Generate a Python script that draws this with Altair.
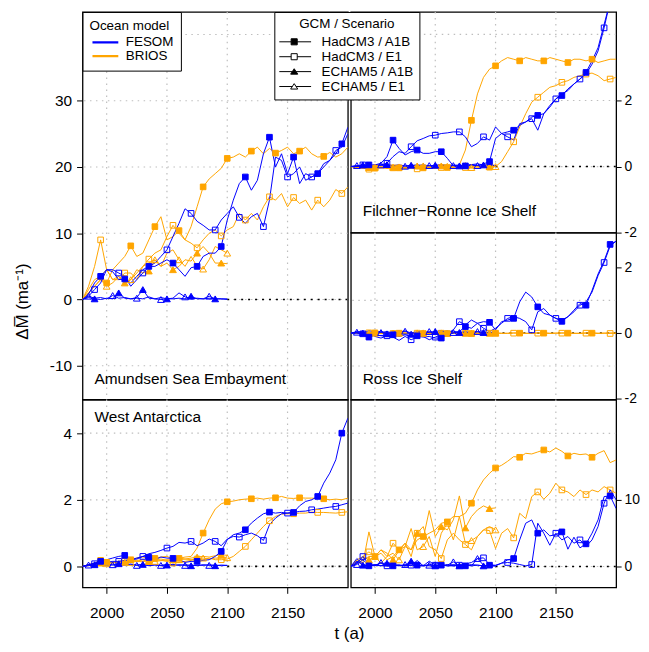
import altair as alt
import pandas as pd

BLUE = "#0000FF"
ORANGE = "#FFA500"
GRID = "#BEBEBE"
FONT = "Liberation Sans"

# ---------------- axes / categories ----------------
years_hadcm3 = list(range(1980, 2201, 5))   # HadCM3 runs 1980-2200
years_echam5 = list(range(1980, 2101, 5))   # ECHAM5 runs 1980-2100
x_ticks = [2000, 2050, 2100, 2150]
models = ["FESOM", "BRIOS"]
scenarios = ["HadCM3 / A1B", "HadCM3 / E1", "ECHAM5 / A1B", "ECHAM5 / E1"]

# ---------------- Amundsen Sea Embayment ----------------
ase_fesom_had_a1b = [0, 0.8, 2.5, 3.5, 4.5, 4.2, 3.0, 3.1, 2.5, 3.5,
                     4.5, 5.0, 5.0, 5.5, 6.0, 5.5, 4.5, 3.5, 4.8, 5.0,
                     6.5, 7.0, 7.0, 8.0, 12.0, 15.0, 17.5, 18.5, 16.5, 18.0,
                     22.0, 24.5, 20.0, 22.0, 19.0, 21.5, 17.5, 19.0, 18.5, 19.0,
                     20.0, 21.0, 22.0, 23.5, 26.0]
ase_fesom_had_e1 = [0, 0.5, 1.5, 2.5, 4.5, 4.5, 4.0, 3.5, 2.0, 3.0,
                    4.0, 5.0, 5.5, 6.5, 7.5, 9.5, 11.5, 13.7, 13.0, 11.8,
                    11.2, 10.5, 10.5, 12.0, 13.0, 14.0, 12.4, 11.5, 12.5, 13.0,
                    11.0, 15.0, 21.5, 21.0, 18.5, 19.0, 20.0, 18.0, 18.5, 19.0,
                    20.5, 21.0, 22.5, 23.0, 25.0]
ase_brios_had_a1b = [0, 1.0, 2.0, 3.0, 2.5, 4.5, 5.5, 6.5, 8.1, 6.5,
                     7.0, 9.0, 11.0, 12.5, 9.0, 9.5, 10.4, 9.0, 11.0, 14.0,
                     17.0, 18.2, 19.0, 19.8, 21.3, 21.5, 22.0, 21.5, 22.4, 23.0,
                     22.0, 22.8, 22.1, 22.5, 23.0, 22.0, 22.4, 23.0, 22.0, 21.5,
                     21.6, 22.2, 21.5, 22.0, 23.0]
ase_brios_had_e1 = [0, 2.0, 5.0, 9.0, 4.5, 3.0, 3.0, 4.0, 4.0, 3.0,
                    5.0, 6.1, 7.0, 7.5, 9.5, 11.2, 10.0, 9.0, 8.5, 7.8,
                    9.0, 10.0, 10.5, 9.6, 10.5, 11.0, 13.0, 12.0, 13.0, 12.0,
                    14.0, 15.5, 15.0, 16.0, 14.0, 15.4, 14.5, 15.0, 13.5, 15.0,
                    14.0, 15.0, 16.6, 16.0, 17.0]
ase_fesom_ech_a1b = [0, 0.3, 0.1, 0.0, 0.2, 0.1, 1.0, 0.2, 0.1, 0.3,
                     1.5, 0.2, 0.1, 0.3, 0.1, 0.1, 0.2, 0.1, 0.5, 0.1,
                     0.1, 0.2, 0.1, 0.1, 0.0]
ase_fesom_ech_e1 = [0, 0.5, 0.2, 0.3, 0.1, 0.6, 0.2, 0.3, 0.1, 0.2,
                    0.1, 0.4, 0.1, 0.0, 0.1, 0.2, 1.0, 0.4, 0.1, 0.2,
                    0.1, 0.5, 0.1, 0.1, 0.1]
ase_brios_ech_a1b = [0, 1.5, 3.0, 3.5, 4.5, 3.0, 3.5, 2.5, 3.0, 4.5,
                     4.0, 4.3, 6.0, 5.0, 5.5, 4.5, 5.0, 6.0, 5.8, 7.0,
                     8.0, 7.0, 5.5, 5.5, 5.4]
ase_brios_ech_e1 = [0, 1.0, 2.0, 3.0, 2.0, 2.5, 3.5, 2.5, 3.0, 4.0,
                    5.0, 5.5, 6.0, 5.0, 7.0, 7.5, 6.0, 5.0, 6.5, 5.0,
                    4.6, 6.0, 8.0, 7.5, 7.0]

# ---------------- Filchner-Ronne Ice Shelf ----------------
fris_fesom_had_a1b = [0, 0, 0.02, 0.05, 0.05, 0.1, 0.3, 0.8, 0.55, 0.35,
                      0.45, 0.5, 0.4, 0.4, 0.45, 0.45, 0.25, 0.02, 0.0, 0.02,
                      0.05, 0.03, 0.08, 0.15, 0.85, 1.0, 1.05, 1.1, 1.25, 1.35,
                      1.5, 1.55, 1.6, 1.8, 2.05, 2.15, 2.35, 2.5, 2.65, 2.85,
                      3.2, 3.6, 4.3, 5.0, 5.6]
fris_fesom_had_e1 = [0, 0, 0.05, 0, 0.05, 0.05, 0.1, 0.3, 0.45, 0.4,
                     0.6, 0.78, 0.85, 0.93, 0.95, 1.0, 1.02, 1.05, 1.05, 0.9,
                     0.6, 0.7, 0.9, 0.8, 1.2, 1.0, 0.9, 0.8, 1.3, 1.35,
                     1.45, 1.1, 1.6, 1.85, 2.05, 2.2, 2.3, 2.5, 2.65, 2.8,
                     3.1, 3.5, 4.2, 5.0, 5.5]
fris_brios_had_a1b = [0, -0.03, -0.05, -0.03, -0.05, -0.04, -0.03, -0.05, -0.04, -0.06,
                      -0.03, -0.05, -0.04, -0.03, -0.05, -0.04, -0.03, -0.02, 0.05, 0.5,
                      1.4, 2.2, 2.7, 2.95, 3.05, 3.2, 3.3, 3.25, 3.2, 3.3,
                      3.25, 3.2, 3.2, 3.3, 3.25, 3.2, 3.15, 3.25, 3.25, 3.2,
                      3.25, 3.15, 3.2, 3.25, 3.25]
fris_brios_had_e1 = [0, -0.03, -0.05, -0.08, -0.05, -0.03, -0.06, -0.04, -0.08, -0.05,
                     -0.04, -0.07, -0.05, -0.04, -0.06, -0.03, -0.05, -0.04, -0.06, -0.03,
                     -0.05, -0.04, -0.03, -0.02, 0.0, 0.15, 0.45, 0.75, 1.2, 1.6,
                     1.95, 2.1, 2.25, 2.4, 2.45, 2.55, 2.6, 2.7, 2.75, 2.8,
                     2.83, 2.75, 2.6, 2.65, 2.7]
fris_fesom_ech_a1b = [0, 0.02, 0.05, 0.03, 0.02, 0.04, 0.06, 0.03, 0.05, 0.02,
                      0.04, 0.03, 0.05, 0.02, 0.04, 0.06, 0.03, 0.05, 0.02, 0.04,
                      0.06, 0.08, 0.05, 0.04, 0.03]
fris_fesom_ech_e1 = [0, 0.03, 0.01, 0.04, 0.02, 0.05, 0.03, 0.02, 0.04, 0.01,
                     0.03, 0.05, 0.02, 0.03, 0.01, 0.04, 0.02, 0.03, 0.05, 0.02,
                     0.04, 0.03, 0.02, 0.05, 0.03]
fris_brios_ech_a1b = [0, -0.02, 0.02, -0.03, 0.0, -0.04, 0.01, -0.02, 0.02, -0.03,
                      -0.01, 0.02, -0.04, 0.0, -0.02, 0.02, -0.03, 0.01, -0.02, 0.03,
                      -0.01, 0.02, -0.03, 0.0, 0.01]
fris_brios_ech_e1 = [0, 0.01, -0.03, 0.02, -0.02, 0.0, -0.04, 0.02, -0.01, -0.03,
                     0.01, -0.02, 0.02, -0.04, 0.0, -0.02, 0.01, -0.03, 0.02, -0.01,
                     -0.03, 0.0, -0.02, -0.01, 0.0]

# ---------------- Ross Ice Shelf ----------------
ross_fesom_had_a1b = [0, 0.02, -0.05, -0.12, -0.05, -0.08, -0.1, -0.05, -0.1, -0.05,
                      -0.1, -0.08, -0.12, -0.1, -0.15, -0.15, -0.05, 0.0, 0.05, 0.2,
                      0.15, 0.3, 0.35, 0.33, 0.1, 0.35, 0.4, 0.45, 0.95, 1.25,
                      1.1, 0.8, 0.6, 0.55, 0.45, 0.36, 0.5, 0.7, 0.9, 0.85,
                      1.3, 1.8, 2.2, 2.7, 2.8]
ross_fesom_had_e1 = [0, 0, -0.02, 0, -0.1, -0.15, -0.08, -0.12, -0.22, -0.1,
                     -0.2, -0.12, -0.1, -0.2, -0.12, -0.05, 0.0, 0.1, 0.35, 0.25,
                     0.4, 0.3, 0.15, 0.05, 0.15, 0.3, 0.45, 0.5, 0.45, 0.35,
                     0.1, 0.65, 0.75, 0.55, 0.45, 0.4, 0.5, 0.65, 0.85, 0.95,
                     1.25, 1.75, 2.15, 2.65, 2.8]
ross_brios_had_a1b = [0, 0.01, -0.01, 0.0, 0.01, -0.01, 0.0, 0.01, 0.0, -0.01,
                      0.0, 0.01, -0.01, 0.0, 0.01, 0.0, -0.01, 0.0, 0.01, 0.0,
                      -0.01, 0.0, 0.01, 0.0, 0.0, -0.01, 0.0, 0.01, 0.0, -0.01,
                      0.0, 0.01, 0.0, -0.01, 0.0, 0.01, 0.0, -0.01, 0.0, 0.01,
                      0.0, -0.01, 0.0, 0.01, 0.0]
ross_brios_had_e1 = [0, -0.01, 0.0, 0.01, 0.0, 0.0, 0.01, -0.01, 0.0, 0.01,
                     -0.01, 0.0, 0.0, 0.01, -0.01, 0.0, 0.01, 0.0, -0.01, 0.0,
                     0.01, 0.0, -0.01, 0.0, 0.01, 0.0, -0.01, 0.0, 0.01, 0.0,
                     -0.01, 0.0, 0.01, 0.0, 0.0, 0.0, 0.01, 0.0, -0.01, 0.0,
                     0.01, 0.0, 0.0, -0.01, 0.0]
ross_fesom_ech_a1b = [0, 0.05, 0.0, 0.08, 0.02, 0.06, -0.02, 0.05, 0.03, 0.07,
                      -0.03, 0.04, 0.06, 0.02, 0.05, 0.08, 0.03, 0.06, 0.02, 0.05,
                      0.01, 0.04, 0.02, 0.03, 0.02]
ross_fesom_ech_e1 = [0, 0.03, 0.06, -0.02, 0.04, 0.02, 0.05, 0.0, 0.03, 0.06,
                     0.01, 0.04, -0.02, 0.05, 0.02, 0.03, 0.07, 0.02, 0.04, 0.01,
                     0.03, 0.05, 0.02, 0.01, 0.02]
ross_brios_ech_a1b = [0, 0.0, 0.01, 0.0, -0.01, 0.0, 0.01, 0.0, 0.0, -0.01,
                      0.0, 0.01, 0.0, -0.01, 0.0, 0.01, 0.0, 0.0, 0.01, 0.0,
                      -0.01, 0.0, 0.01, 0.0, 0.0]
ross_brios_ech_e1 = [0, 0.01, 0.0, -0.01, 0.0, 0.0, 0.0, 0.01, 0.0, 0.0,
                     -0.01, 0.0, 0.01, 0.0, 0.0, 0.0, -0.01, 0.0, 0.0, 0.01,
                     0.0, 0.0, -0.01, 0.0, 0.0]

# ---------------- West Antarctica ----------------
wa_fesom_had_a1b = [0, 0.05, 0.1, 0.15, 0.2, 0.25, 0.3, 0.33, 0.2, 0.25,
                    0.3, 0.27, 0.2, 0.28, 0.25, 0.24, 0.2, 0.12, 0.15, 0.15,
                    0.18, 0.2, 0.3, 0.45, 0.8, 0.95, 1.0, 1.1, 1.3, 1.45,
                    1.58, 1.63, 1.6, 1.62, 1.6, 1.62, 1.82, 1.95, 2.0, 2.1,
                    2.5, 2.8, 3.2, 4.0, 4.45]
wa_fesom_had_e1 = [0, 0.05, 0.08, 0.1, 0.12, 0.15, 0.15, 0.18, 0.2, 0.22,
                   0.3, 0.38, 0.42, 0.48, 0.55, 0.6, 0.72, 0.7, 0.75, 0.62,
                   0.7, 0.82, 0.75, 0.62, 0.82, 0.9, 0.88, 0.95, 1.0, 0.92,
                   0.78, 1.25, 1.45, 1.58, 1.6, 1.62, 1.65, 1.66, 1.7, 1.72,
                   1.75, 1.78, 1.8, 1.85, 1.9]
wa_brios_had_a1b = [0, 0.02, 0.05, 0.1, 0.12, 0.1, 0.15, 0.18, 0.2, 0.25,
                    0.28, 0.25, 0.24, 0.28, 0.3, 0.22, 0.24, 0.28, 0.3, 0.55,
                    1.0, 1.4, 1.72, 1.88, 1.94, 1.96, 2.0, 2.02, 2.03, 2.05,
                    2.02, 2.05, 2.06, 2.1, 2.05, 2.04, 2.06, 2.05, 2.05, 2.04,
                    2.03, 2.0, 2.02, 2.0, 2.05]
wa_brios_had_e1 = [0, 0.05, 0.1, 0.18, 0.15, 0.12, 0.1, 0.15, 0.18, 0.15,
                   0.2, 0.15, 0.2, 0.18, 0.15, 0.1, 0.12, 0.15, 0.18, 0.22,
                   0.2, 0.25, 0.2, 0.2, 0.22, 0.3, 0.45, 0.6, 0.8, 1.0,
                   1.2, 1.37, 1.5, 1.57, 1.58, 1.58, 1.6, 1.6, 1.63, 1.62,
                   1.62, 1.61, 1.6, 1.62, 1.64]
wa_fesom_ech_a1b = [0, 0.02, 0.05, 0.03, 0.06, 0.04, 0.08, 0.05, 0.07, 0.04,
                    0.06, 0.03, 0.05, 0.02, 0.04, 0.06, 0.03, 0.05, 0.02, 0.04,
                    0.03, 0.05, 0.02, 0.04, 0.03]
wa_fesom_ech_e1 = [0, 0.04, 0.02, 0.06, 0.03, 0.05, 0.02, 0.04, 0.06, 0.03,
                   0.05, 0.02, 0.04, 0.03, 0.06, 0.02, 0.05, 0.03, 0.04, 0.02,
                   0.05, 0.03, 0.04, 0.02, 0.03]
wa_brios_ech_a1b = [0, 0.05, 0.08, 0.1, 0.12, 0.1, 0.15, 0.12, 0.15, 0.18,
                    0.2, 0.15, 0.2, 0.22, 0.18, 0.2, 0.25, 0.22, 0.25, 0.28,
                    0.3, 0.28, 0.32, 0.35, 0.33]
wa_brios_ech_e1 = [0, 0.04, 0.06, 0.1, 0.08, 0.12, 0.1, 0.13, 0.12, 0.15,
                   0.14, 0.18, 0.15, 0.17, 0.2, 0.18, 0.2, 0.22, 0.2, 0.23,
                   0.25, 0.22, 0.25, 0.24, 0.26]

# ---------------- bottom-right panel ----------------
br_fesom_had_a1b = [0, 1.2, 0.3, 0.1, 0.2, 0.1, 0.3, 0.1, 0.2, 0.1,
                    0.5, 0.2, 0.1, 0.3, 0.1, 0.2, 0.1, 0.1, 0.2, 0.1,
                    0.3, 0.2, 0.1, 0.2, 0.2, 0.5, 1.0, 1.2, 4.0, 6.5,
                    7.0, 5.0, 5.5, 4.6, 4.8, 5.2, 2.6, 4.4, 2.8, 3.4,
                    5.0, 7.0, 10.5, 10.6, 8.7]
br_fesom_had_e1 = [0, 0.5, 1.5, 0.3, 0.2, 0.5, 0.1, 0.3, 0.2, 0.1,
                   0.2, 0.1, 0.1, 0.8, 0.2, 0.1, 0.3, 0.1, 0.2, 0.4,
                   0.6, 1.2, 1.3, 0.3, 0.1, 0.5, 0.6, 0.5, 0.3, 0.1,
                   0.3, 6.5, 5.0, 3.2, 5.0, 4.0, 4.5, 3.5, 4.0, 3.0,
                   4.0, 6.0, 9.5, 11.5, 10.0]
br_brios_had_a1b = [0, 0.5, 1.0, 1.5, 1.5, 2.0, 1.0, 1.5, 2.5, 3.0,
                    2.5, 4.0, 4.5, 5.0, 5.5, 6.5, 6.7, 7.5, 7.5, 8.0,
                    9.5, 11.5, 13.0, 14.0, 14.8, 15.2, 15.8, 16.5, 16.4, 17.0,
                    16.9, 17.2, 17.5, 17.2, 17.8, 17.3, 16.6, 17.0, 16.8, 16.9,
                    16.4, 17.0, 17.4, 15.6, 16.0]
br_brios_had_e1 = [0, 1.0, 1.5, 2.2, 1.5, 2.5, 1.5, 3.5, 2.5, 3.5,
                   1.5, 5.0, 6.0, 3.0, 2.5, 1.2, 4.0, 5.0, 4.0, 3.3,
                   2.5, 4.5, 5.5, 5.4, 2.7, 5.0, 5.7, 4.3, 8.0, 7.2,
                   10.5, 11.2, 10.1, 11.0, 12.5, 11.5, 11.2, 10.5, 11.5, 10.8,
                   11.5, 11.2, 12.0, 11.5, 11.0]
br_fesom_ech_a1b = [0, 0.8, 0.2, 0.1, 0.3, 0.1, 0.5, 0.1, 0.2, 0.1,
                    0.8, 0.1, 0.2, 0.1, 0.1, 0.3, 0.1, 0.2, 0.1, 0.4,
                    0.1, 0.2, 0.1, 0.1, 0.1]
br_fesom_ech_e1 = [0, 0.3, 1.0, 0.2, 0.1, 0.6, 0.1, 0.2, 0.1, 0.3,
                   0.1, 0.9, 0.1, 0.2, 0.6, 0.1, 0.2, 0.7, 0.1, 0.2,
                   0.1, 1.2, 0.2, 0.1, 0.1]
br_brios_ech_a1b = [0, 0.5, 1.5, 1.0, 1.5, 2.5, 2.0, 1.0, 2.4, 3.5,
                    2.5, 5.0, 4.2, 8.4, 4.5, 6.0, 5.5, 7.0, 10.6, 5.8,
                    7.5, 8.5, 9.1, 8.7, 8.8]
br_brios_ech_e1 = [0, 1.0, 0.5, 5.2, 1.5, 0.5, 1.5, 2.0, 1.0, 3.0,
                   5.7, 2.5, 3.0, 4.5, 1.5, 5.0, 6.5, 4.0, 7.5, 3.5,
                   3.9, 4.5, 5.5, 6.0, 5.5]

SERIES = {
    "ASE": [ase_brios_had_a1b, ase_brios_had_e1, ase_brios_ech_a1b, ase_brios_ech_e1,
            ase_fesom_had_a1b, ase_fesom_had_e1, ase_fesom_ech_a1b, ase_fesom_ech_e1],
    "FRIS": [fris_brios_had_a1b, fris_brios_had_e1, fris_brios_ech_a1b, fris_brios_ech_e1,
             fris_fesom_had_a1b, fris_fesom_had_e1, fris_fesom_ech_a1b, fris_fesom_ech_e1],
    "ROSS": [ross_brios_had_a1b, ross_brios_had_e1, ross_brios_ech_a1b, ross_brios_ech_e1,
             ross_fesom_had_a1b, ross_fesom_had_e1, ross_fesom_ech_a1b, ross_fesom_ech_e1],
    "WA": [wa_brios_had_a1b, wa_brios_had_e1, wa_brios_ech_a1b, wa_brios_ech_e1,
           wa_fesom_had_a1b, wa_fesom_had_e1, wa_fesom_ech_a1b, wa_fesom_ech_e1],
    "BR": [br_brios_had_a1b, br_brios_had_e1, br_brios_ech_a1b, br_brios_ech_e1,
           br_fesom_had_a1b, br_fesom_had_e1, br_fesom_ech_a1b, br_fesom_ech_e1],
}
SERIES_KEYS = [(m, s) for m in ["BRIOS", "FESOM"] for s in scenarios]

# marker every 20 years, phase per run (style)
MARK_PHASE = {("FESOM", scenarios[0]): 15, ("FESOM", scenarios[1]): 10,
              ("FESOM", scenarios[2]): 10, ("FESOM", scenarios[3]): 5,
              ("BRIOS", scenarios[0]): 0, ("BRIOS", scenarios[1]): 15,
              ("BRIOS", scenarios[2]): 15, ("BRIOS", scenarios[3]): 0}
MODEL_COLOR = {"FESOM": BLUE, "BRIOS": ORANGE}

PANELS = {
    "ASE": dict(domain=[-15.1, 43.4], ticks=[-10, 0, 10, 20, 30], grid=[-10, 0, 10, 20, 30, 40],
                height=390, orient="left", label="Amundsen Sea Embayment", label_y=369),
    "WA": dict(domain=[-0.63, 5.01], ticks=[0, 2, 4], grid=[0, 2, 4],
               height=189, orient="left", label="West Antarctica", label_y=18),
    "FRIS": dict(domain=[-2.0, 4.68], ticks=[-2, 0, 2], grid=[0, 2, 4],
                 height=222, orient="right", label="Filchner\u2212Ronne Ice Shelf", label_y=200),
    "ROSS": dict(domain=[-2.02, 3.06], ticks=[-2, 0, 2], grid=[-1, 1],
                 height=168, orient="right", label="Ross Ice Shelf", label_y=147),
    "BR": dict(domain=[-3.13, 25.07], ticks=[0, 10], grid=[0, 10, 20],
               height=189, orient="right", label="", label_y=18),
}
X_DOMAIN = [1980, 2200]


def panel_frames(name):
    lo, hi = PANELS[name]["domain"]
    pad = 0.03 * (hi - lo)   # markers that would poke out of the frame are not drawn
    rows = []
    for (model, scen), vals in zip(SERIES_KEYS, SERIES[name]):
        yrs = years_hadcm3 if scen.startswith("HadCM3") else years_echam5
        for yr, v in zip(yrs, vals):
            inside = (X_DOMAIN[0] < yr < X_DOMAIN[1]) and (lo + pad <= v <= hi - pad)
            rows.append(dict(model=model, scen=scen, year=yr, value=v,
                             mark=(yr % 20 == MARK_PHASE[(model, scen)]) and inside,
                             shape="square" if scen.startswith("HadCM3") else "triangle-up",
                             fillc=MODEL_COLOR[model] if scen.endswith("A1B") else "transparent",
                             strokec=MODEL_COLOR[model],
                             msize=32 if scen.startswith("HadCM3") else 46))
    df = pd.DataFrame(rows)
    return df, df[df["mark"]].copy()


PANEL_W = 267

color_legend = alt.Legend(
    title="Ocean model", orient="none", legendX=0, legendY=0, direction="vertical",
    fillColor="white", strokeColor="black", padding=7,
    symbolType="M-0.722,0L0.722,0", symbolSize=1296, symbolStrokeWidth=2.2,
    symbolOffset=-3.5, labelOffset=1, clipHeight=14, rowPadding=0, titlePadding=3,
    titleFontSize=13.5, titleFontWeight="normal", labelFontSize=13.5,
    titleFont=FONT, labelFont=FONT, titleColor="black", labelColor="black")
color_scale = alt.Scale(domain=models, range=[BLUE, ORANGE])

SQ = "M-1,0L-0.18,0M0.18,0L1,0M-0.18,-0.18L0.18,-0.18L0.18,0.18L-0.18,0.18Z"
TRI = "M-1,0L-0.11,0M0.11,0L1,0M0,-0.17L0.21,0.15L-0.21,0.15Z"
scen_legend = alt.Legend(
    title="GCM / Scenario", orient="none", legendX=193, legendY=0, direction="vertical",
    fillColor="white", strokeColor="black", padding=5,
    symbolSize=1156, symbolStrokeWidth=1, symbolOffset=-2.5,
    labelOffset=10, clipHeight=15, rowPadding=0, titlePadding=4,
    titleAnchor="middle", titleFontSize=13.5, titleFontWeight="normal", labelFontSize=13.5,
    titleFont=FONT, labelFont=FONT, titleColor="black", labelColor="black")

HYPHEN = "replace(datum.label, '\u2212', '-')"


def make_panel(name):
    p = PANELS[name]
    df, dm = panel_frames(name)
    xs = alt.Scale(domain=X_DOMAIN, nice=False, zero=False)
    ys = alt.Scale(domain=p["domain"], nice=False, zero=False)
    if name in ("WA", "BR"):
        xaxis = alt.Axis(values=x_ticks, format="d", orient="bottom", tickSize=6,
                         labelPadding=12, title=None)
    else:
        xaxis = None
    if name == "ASE":
        yaxis = alt.Axis(values=p["ticks"], orient="left", tickSize=6, labelPadding=5,
                         labelExpr=HYPHEN,
                         title="\u0394M\u0305 (ma\u207b\u00b9)", titleY=291, titlePadding=18)
    elif p["orient"] == "left":
        yaxis = alt.Axis(values=p["ticks"], orient="left", tickSize=6, labelPadding=5,
                         labelExpr=HYPHEN, title=None)
    else:
        yaxis = alt.Axis(values=p["ticks"], orient="right", tickSize=5, labelPadding=3,
                         labelFontSize=14, labelExpr=HYPHEN, title=None)

    def X(f):
        return alt.X(f, type="quantitative", scale=xs, axis=xaxis)

    def Y(f):
        return alt.Y(f, type="quantitative", scale=ys, axis=yaxis)

    vgrid = alt.Chart(pd.DataFrame({"t": x_ticks})).mark_rule(
        color=GRID, strokeDash=[1.5, 4.5], strokeWidth=1.2).encode(x=X("t"))
    hgrid = alt.Chart(pd.DataFrame({"v": p["grid"]})).mark_rule(
        color=GRID, strokeDash=[1.5, 4.5], strokeWidth=1.2, clip=True).encode(y=Y("v"))
    zero = alt.Chart(pd.DataFrame({"x0": [2100], "x1": [2200], "y0": [0]})).mark_rule(
        color="black", strokeDash=[2, 5], strokeWidth=1.6).encode(
        x=X("x0"), x2="x1:Q", y=Y("y0"))
    lines = alt.Chart(df).mark_line(clip=True, strokeWidth=1).encode(
        x=X("year"), y=Y("value"),
        color=alt.Color("model:N", scale=color_scale, legend=color_legend),
        detail="scen:N")
    pts = alt.Chart(dm).mark_point(clip=True, opacity=1, strokeWidth=1).encode(
        x=X("year"), y=Y("value"),
        shape=alt.Shape("shape:N", scale=None),
        fill=alt.Fill("fillc:N", scale=None),
        stroke=alt.Stroke("strokec:N", scale=None),
        size=alt.Size("msize:Q", scale=None))
    layers = [vgrid, hgrid, zero, lines, pts]
    if p["label"]:
        txt = alt.Chart(pd.DataFrame({"lab": [p["label"]]})).mark_text(
            align="left", baseline="middle", fontSize=15.5, font=FONT, color="black").encode(
            x=alt.value(12), y=alt.value(p["label_y"]), text="lab:N")
        layers.append(txt)
    if name == "ASE":
        # legend carrier: placed where the (opaque) legend box covers it
        dummy = pd.DataFrame({"scen": scenarios, "year": [2010] * 4, "value": [40] * 4})
        leg = alt.Chart(dummy).mark_point(opacity=1, strokeWidth=1, size=4).encode(
            x=X("year"), y=Y("value"),
            shape=alt.Shape("scen:N", scale=alt.Scale(domain=scenarios, range=[SQ, SQ, TRI, TRI]),
                            legend=scen_legend),
            fill=alt.Fill("scen:N", scale=alt.Scale(domain=scenarios,
                                                    range=["black", "white", "black", "white"]),
                          legend=scen_legend),
            stroke=alt.Stroke("scen:N", scale=alt.Scale(domain=scenarios,
                                                        range=["black", "black", "black", "black"]),
                              legend=scen_legend))
        layers.append(leg)
    return alt.layer(*layers).properties(width=PANEL_W, height=p["height"])


left = alt.vconcat(make_panel("ASE"), make_panel("WA"), spacing=0, bounds="flush")
right = alt.vconcat(make_panel("FRIS"), make_panel("ROSS"), make_panel("BR"), spacing=0, bounds="flush")
chart = alt.hconcat(left, right, spacing=0).properties(
    padding={"left": 4, "top": 0, "right": 0, "bottom": 3},
    title=alt.TitleParams("t (a)", orient="bottom", anchor="middle", fontSize=17,
                          fontWeight="normal", font=FONT, color="black", offset=5, dx=23)
).configure(font=FONT).configure_view(
    stroke="black", strokeWidth=1.3
).configure_axis(
    labelFont=FONT, labelFontSize=15.5, labelColor="black", tickColor="black", tickWidth=1,
    titleFont=FONT, titleFontSize=17, titleFontWeight="normal", titleColor="black",
    domain=False, grid=False, labelFlush=False, labelOverlap=False
)

chart.save("out.html", embed_options={"renderer": "svg", "actions": False})
